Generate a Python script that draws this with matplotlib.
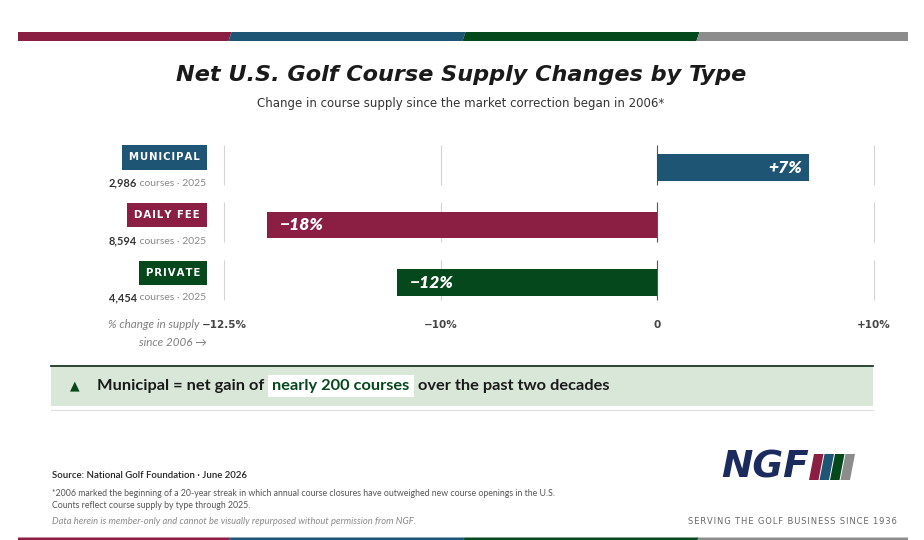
import numpy as np
import matplotlib.pyplot as plt
from matplotlib.patches import Polygon, Rectangle

# ---- data ----
categories = ["MUNICIPAL", "DAILY FEE", "PRIVATE"]
changes = [7, -18, -12]
change_labels = ["+7%", "\u221218%", "\u221212%"]
course_counts = ["2,986", "8,594", "4,454"]
count_year = "2025"
tick_values = [-20, -10, 0, 10]
tick_labels = ["\u221212.5%", "\u221210%", "0", "+10%"]

MAROON = "#8A1F43"
BLUE = "#1F5574"
GREEN = "#04481B"
GRAY = "#8C8C8C"
NAVY = "#1C2B5E"
bar_colors = [BLUE, MAROON, GREEN]

plt.rcParams["font.family"] = ["Lato", "DejaVu Sans"]

W, H = 924, 540
fig = plt.figure(figsize=(W / 100, H / 100), dpi=100)

# background axes in pixel coordinates for all the decoration
bg = fig.add_axes([0, 0, 1, 1])
bg.set_xlim(0, W)
bg.set_ylim(H, 0)
bg.axis("off")


def stripe(y0, y1, slant):
    edges = [18, 230, 464, 698, 908]
    cols = [MAROON, BLUE, GREEN, GRAY]
    for i, c in enumerate(cols):
        xl, xr = edges[i], edges[i + 1]
        dl = 0 if i == 0 else slant
        dr = 0 if i == 3 else slant
        bg.add_patch(Polygon([(xl - dl, y1), (xl + dl, y0), (xr + dr, y0), (xr - dr, y1)],
                             closed=True, facecolor=c, edgecolor="none"))


stripe(32, 41, 1.5)
stripe(537.5, 540, 0.5)

# title + subtitle
bg.text(461, 75, "Net U.S. Golf Course Supply Changes by Type", ha="center", va="center",
        fontsize=16.1, fontweight="bold", fontstyle="italic", color="#1a1a1a",
        family=["DejaVu Sans"])
bg.text(461, 104, "Change in course supply since the market correction began in 2006*",
        ha="center", va="center", fontsize=8.45, color="#333333", family=["DejaVu Sans"])

# ---- chart axes ----
px_per = 21.65
x0 = 657 - 20.5 * px_per
x1 = 657 + 10.5 * px_per
top, bottom = 136, 308.5
ax = fig.add_axes([x0 / W, 1 - bottom / H, (x1 - x0) / W, (bottom - top) / H])
ax.set_facecolor("none")
ax.set_xlim(-20.5, 10.5)
ax.set_ylim(2.5, -0.5)
rows = np.arange(len(categories))

for t in tick_values:
    col = "#555555" if t == 0 else "#d4d4d4"
    for r in rows:
        ax.vlines(t, r - 0.35, r + 0.35, color=col, lw=0.8, zorder=1)

ax.barh(rows + 0.05, changes, height=0.46, color=bar_colors, zorder=2)

for r, v, lab in zip(rows, changes, change_labels):
    if v > 0:
        ax.annotate(lab, (v, r + 0.05), xytext=(-5, 0), textcoords="offset points",
                    ha="right", va="center", color="white", fontsize=12.5,
                    fontweight="heavy", fontstyle="italic", zorder=3)
    else:
        ax.annotate(lab, (v, r + 0.05), xytext=(9, 0), textcoords="offset points",
                    ha="left", va="center", color="white", fontsize=12.5,
                    fontweight="heavy", fontstyle="italic", zorder=3)

ax.set_xticks(tick_values)
ax.set_xticklabels(tick_labels, fontsize=7.5, fontweight="bold", color="#444444",
                   family=["DejaVu Sans"])
ax.tick_params(axis="x", length=0, pad=8)
ax.set_yticks([])
for s in ax.spines.values():
    s.set_visible(False)

# ---- left side labels ----
fig.canvas.draw()
renderer = fig.canvas.get_renderer()

row_y = [157.5, 215, 273]
count_y = [183, 241, 298]
for name, col, ly, cy, n in zip(categories, bar_colors, row_y, count_y, course_counts):
    bg.text(200, ly, "\u200a".join(name), ha="right", va="center", color="white",
            fontsize=7.3, fontweight="bold", family=["DejaVu Sans"],
            bbox=dict(boxstyle="square,pad=0.7", facecolor=col, edgecolor="none"))
    g = bg.text(206, cy, " courses \u00b7 " + count_year, ha="right", va="center",
                fontsize=7.5, color="#888888")
    bb = g.get_window_extent(renderer)
    bg.text(bb.x0, cy, n, ha="right", va="center", fontsize=7.9, fontweight="bold",
            color="#333333")

bg.text(200, 325, "% change in supply", ha="right", va="center", fontsize=8.4,
        fontstyle="italic", color="#808080")
bg.text(207, 342, "since 2006 \u2192", ha="right", va="center", fontsize=8.4,
        fontstyle="italic", color="#808080")

# ---- callout ----
bg.add_patch(Rectangle((51, 365), 822, 41, facecolor="#D9E7D9", edgecolor="none"))
bg.plot([51, 873], [365.5, 365.5], color="#1F3A26", lw=1.3)
bg.plot([51, 873], [409.5, 409.5], color="#dddddd", lw=0.8)
bg.text(75, 386, "\u25b2", ha="center", va="center", fontsize=9, color=GREEN,
        family=["DejaVu Sans"])
cy = 386
t1 = bg.text(97, cy, "Municipal = net gain of", ha="left", va="center", fontsize=11.8,
             fontweight="bold", color="#1a1a1a")
fig.canvas.draw()
xa = t1.get_window_extent(renderer).x1 + 8
t2 = bg.text(xa, cy, "nearly 200 courses", ha="left", va="center", fontsize=11.8,
             fontweight="bold", color=GREEN,
             bbox=dict(boxstyle="square,pad=0.25", facecolor="white", edgecolor="none"))
fig.canvas.draw()
xb = t2.get_window_extent(renderer).x1 + 8
bg.text(xb, cy, "over the past two decades", ha="left", va="center", fontsize=11.8,
        fontweight="bold", color="#1a1a1a")

# ---- footer ----
bg.text(52, 476, "Source: National Golf Foundation \u00b7 June 2026", ha="left", va="center",
        fontsize=6.9, fontweight="semibold", color="#222222")
bg.text(52, 493, "*2006 marked the beginning of a 20-year streak in which annual course closures "
        "have outweighed new course openings in the U.S.", ha="left", va="center",
        fontsize=6.35, color="#555555")
bg.text(52, 506, "Counts reflect course supply by type through 2025.", ha="left", va="center",
        fontsize=6.35, color="#555555")
bg.text(52, 522, "Data herein is member-only and cannot be visually repurposed without "
        "permission from NGF.", ha="left", va="center", fontsize=6.75, fontstyle="italic",
        color="#8a8a8a")

# NGF logo
bg.text(721, 467, "NGF", ha="left", va="center", fontsize=27, fontweight="bold",
        fontstyle="italic", color=NAVY, family=["DejaVu Sans"])
for i, c in enumerate([MAROON, BLUE, GREEN, GRAY]):
    xl = 809 + i * 10.5
    bg.add_patch(Polygon([(xl, 480), (xl + 5, 454), (xl + 14.5, 454), (xl + 9.5, 480)],
                         closed=True, facecolor=c, edgecolor="none"))
bg.text(688, 521, "\u200a".join("SERVING THE GOLF BUSINESS SINCE 1936"), ha="left",
        va="center", fontsize=6.0, color="#666666", family=["DejaVu Sans"])

fig.savefig("out.png", dpi=100)
